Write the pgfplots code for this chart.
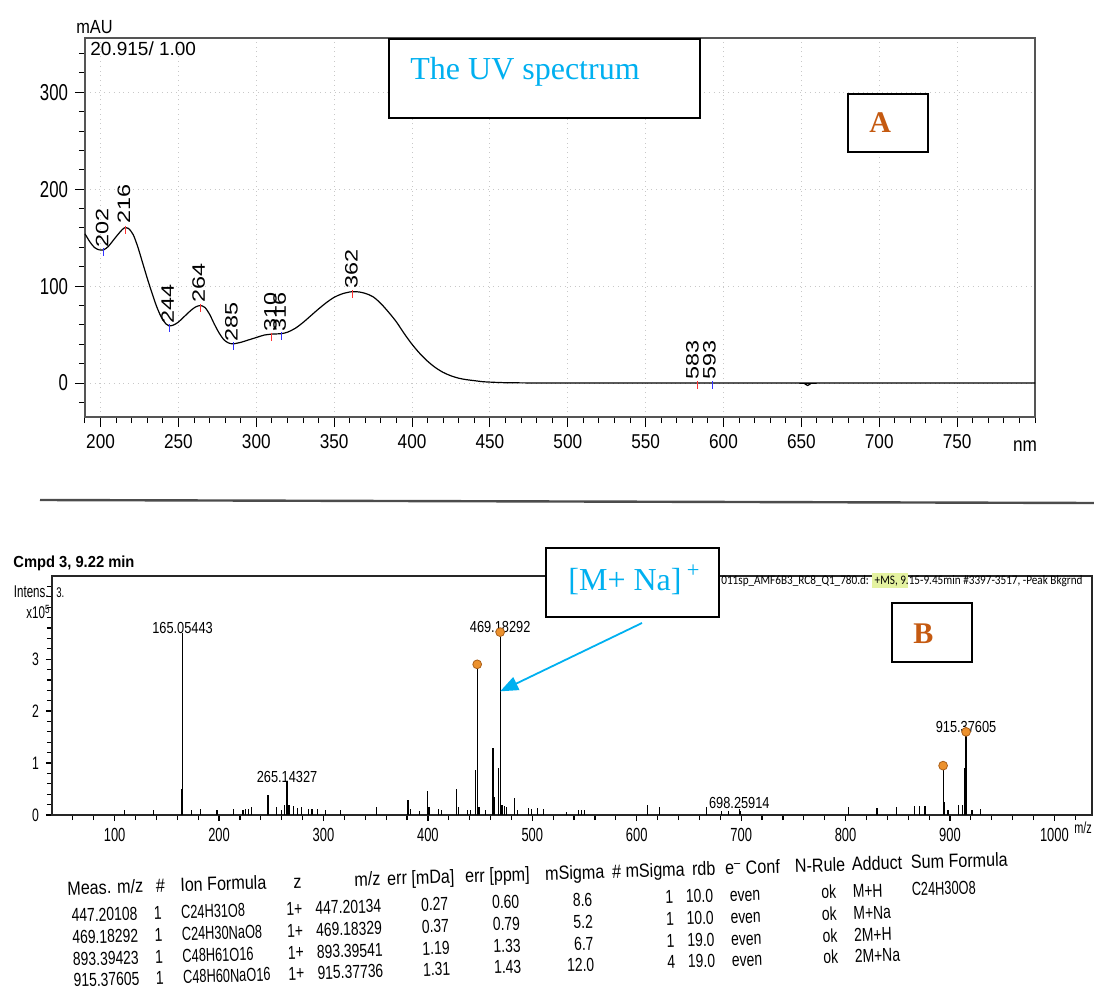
\documentclass[border=0pt]{standalone}
\usepackage{pgfplots}
\pgfplotsset{compat=1.18}
\usetikzlibrary{arrows.meta}
\usepackage{fontspec}
\setmainfont{Liberation Sans}
\newfontfamily\fYt[FakeStretch=0.73]{Liberation Sans}
\newfontfamily\fXt[FakeStretch=0.86]{Liberation Sans}
\newfontfamily\fRot[FakeStretch=1.3]{Liberation Sans}
\newfontfamily\fSerif{Liberation Serif}
\newfontfamily\fMS[FakeStretch=0.8]{Liberation Sans}
\newfontfamily\fMSt[FakeStretch=0.68]{Liberation Sans}
\newfontfamily\fCmpd[FakeStretch=0.92]{Liberation Sans}
\newfontfamily\fTab[FakeStretch=0.74]{Liberation Sans}
\newfontfamily\fTabF[FakeStretch=0.68]{Liberation Sans}
\newfontfamily\fTabH[FakeStretch=0.84]{Liberation Sans}
\newfontfamily\fCal[FakeStretch=0.86]{Carlito}
\newcommand\fs[1]{\fontsize{#1}{#1}\selectfont}
\definecolor{cyanT}{RGB}{0,176,240}
\definecolor{orangeT}{RGB}{197,90,17}
\definecolor{frameg}{RGB}{85,85,85}
\definecolor{gridg}{RGB}{200,200,200}
\definecolor{mkor}{RGB}{236,145,45}
\definecolor{mkdk}{RGB}{170,95,25}
\definecolor{hil}{RGB}{228,242,160}
\begin{document}
\begin{tikzpicture}
\useasboundingbox (0,0) rectangle (547pt,-495pt);

% ---------------- UV spectrum ----------------
\begin{axis}[
  at={(42.5pt,-208.5pt)}, anchor=south west,
  scale only axis, width=475pt, height=189.5pt,
  xmin=190, xmax=800, ymin=-35, ymax=356,
  /pgf/number format/assume math mode=true,
  /pgf/number format/1000 sep={},
  axis line style={draw=frameg, line width=1pt},
  xtick={200,250,...,750}, minor xtick={190,200,...,800},
  ytick={0,100,200,300}, minor ytick={-20,0,...,340},
  xtick pos=bottom, ytick pos=left, tick align=outside,
  major tick length=5pt, minor tick length=3pt,
  tick style={black, line width=0.5pt},
  grid=major, major grid style={gridg, dotted, line width=0.5pt},
  xticklabel style={font=\fXt\fs{10}},
  yticklabel style={font=\fYt\fs{11.5}},
  clip=false,
]
\addplot[black, line width=0.6pt, smooth, tension=0.5] coordinates {
(190,154)(193,146)(196,140)(199,137.5)(202,137.5)(205,141)(208,147)(211,153)
(214,158.5)(216,160.5)(218,159.5)(221,153)(224,140)(227,124)(230,108)(233,93)
(236,79)(239,68)(242,61)(244,59)(247,60)(250,63)(254,69)(258,75)(261,78.5)
(264,80)(267,78)(270,71)(273,61)(276,52)(279,45)(282,41.5)(285,40.5)(290,42)
(295,44.5)(300,47)(305,49.5)(310,50.5)(316,51)(320,52.5)(325,56.5)(330,62.5)
(335,69.5)(340,76.5)(345,83)(350,88.5)(355,92)(360,94)(362,94.3)(366,94)
(370,92.5)(375,89)(380,82)(385,73)(390,63)(395,51)(400,40)(405,30.5)(410,22.5)
(415,16)(420,11)(425,7.5)(430,5)(435,3.5)(440,2.5)(445,1.5)(450,1)(460,0.4)
(480,0.1)(500,0)(650,0)(652,-0.5)(654,-2.5)(656,-0.5)(658,0)(800,0)};
\addplot[only marks, mark=|, red!80, mark size=2pt] coordinates {(216,158)(264,77.5)(310,48)(362,92)(583,-2)};
\addplot[only marks, mark=|, blue!80, mark size=2pt] coordinates {(202,135)(244,56.5)(285,38)(316,48.5)(593,-2)};
\node[rotate=90, anchor=west, inner sep=1pt, font=\fRot\fs{9}] at (axis cs:201,137.5) {202};
\node[rotate=90, anchor=west, inner sep=1pt, font=\fRot\fs{9}] at (axis cs:215,162) {216};
\node[rotate=90, anchor=west, inner sep=1pt, font=\fRot\fs{9}] at (axis cs:243,59) {244};
\node[rotate=90, anchor=west, inner sep=1pt, font=\fRot\fs{9}] at (axis cs:263,81) {264};
\node[rotate=90, anchor=west, inner sep=1pt, font=\fRot\fs{9}] at (axis cs:284,40.5) {285};
\node[rotate=90, anchor=west, inner sep=1pt, font=\fRot\fs{9}] at (axis cs:309,50.5) {310};
\node[rotate=90, anchor=west, inner sep=1pt, font=\fRot\fs{9}] at (axis cs:315,51) {316};
\node[rotate=90, anchor=west, inner sep=1pt, font=\fRot\fs{9}] at (axis cs:361,95) {362};
\node[rotate=90, anchor=west, inner sep=1pt, font=\fRot\fs{9}] at (axis cs:580,1) {583};
\node[rotate=90, anchor=west, inner sep=1pt, font=\fRot\fs{9}] at (axis cs:591,1) {593};
\end{axis}

% ---------------- Mass spectrum ----------------
\begin{axis}[
  at={(26pt,-407.5pt)}, anchor=south west,
  scale only axis, width=520pt, height=119.5pt,
  xmin=40, xmax=1036, ymin=0, ymax=4.6,
  /pgf/number format/assume math mode=true,
  /pgf/number format/1000 sep={},
  axis line style={draw=black!85, line width=0.9pt},
  xtick={100,200,...,1000}, minor xtick={60,80,...,1020},
  ytick={0,1,2,3}, minor ytick={0,0.2,...,4.4},
  xtick pos=bottom, ytick pos=left, tick align=outside,
  major tick length=3pt, minor tick length=2.5pt,
  tick style={black, line width=0.6pt},
  xticklabel style={font=\fMSt\fs{9.5}},
  yticklabel style={font=\fMSt\fs{9}},
  clip=false,
]
\addplot[ycomb, black, line width=0.6pt, no marks] coordinates {
(109.3,0.09)(137.2,0.1)(164.3,0.5)(165.05443,3.5)(173.5,0.1)(182,0.11)(198,0.1)
(214,0.12)(223,0.1)(225.5,0.12)(228,0.12)(231,0.16)(246.8,0.38)(255.3,0.15)
(260,0.1)(263,0.2)(265.14327,0.64)(267,0.2)(271,0.18)(275,0.13)(279,0.15)
(286,0.12)(289,0.12)(294,0.12)(302,0.1)(316,0.1)(351,0.15)(381,0.28)(383,0.12)
(392,0.08)(399.5,0.47)(401,0.15)(410,0.12)(413,0.1)(427,0.51)(429,0.15)
(438,0.1)(441,0.1)(445.3,0.87)(447.20108,2.9)(449,0.15)(455,0.1)(462.4,1.29)
(464,0.35)(467.3,0.9)(469.18292,3.52)(471,0.2)(473,0.18)(475,0.15)(482.7,0.32)
(486,0.1)(496,0.13)(499,0.12)(505,0.13)(511,0.12)(533,0.05)(544,0.09)(547,0.09)
(550,0.09)(610,0.2)(621.6,0.15)(666.7,0.15)(681,0.08)(688,0.08)(698.25914,0.12)
(699.3,0.08)(803,0.15)(830,0.13)(849,0.16)(866,0.17)(871,0.17)(876,0.17)
(893.39423,0.95)(895,0.25)(898,0.1)(908,0.2)(912,0.2)(914,0.9)(915.37605,1.6)
(921,0.1)(929,0.12)};
\addplot[only marks, mark=*, mark size=2.2pt, mark options={fill=mkor, draw=mkdk, line width=0.4pt}]
  coordinates {(447.20108,2.9)(469.18292,3.52)(893.39423,0.95)(915.37605,1.6)};
\node[anchor=south, inner sep=0.5pt, yshift=-1pt, font=\fMS\fs{8}] at (axis cs:165.05443,3.5) {165.05443};
\node[anchor=south, inner sep=0.5pt, yshift=-1pt, font=\fMS\fs{8}] at (axis cs:469.18292,3.52) {469.18292};
\node[anchor=south, inner sep=0.5pt, yshift=-1pt, font=\fMS\fs{8}] at (axis cs:265.14327,0.64) {265.14327};
\node[anchor=south, inner sep=0.5pt, yshift=-1pt, font=\fMS\fs{8}] at (axis cs:698.25914,0.14) {698.25914};
\node[anchor=south, inner sep=0.5pt, yshift=-1pt, font=\fMS\fs{8}] at (axis cs:915.37605,1.6) {915.37605};
\coordinate (tip) at (axis cs:469.18292,2.38);
\end{axis}

% ---------------- annotations ----------------
\begin{scope}[x=0.5pt,y=-0.5pt]
\node[anchor=center, inner sep=0pt, font=\fXt\fs{9.5}] at (94.5,27) {mAU};
\node[anchor=west, inner sep=0pt, font=\fs{9.5}] at (90,49) {20.915/ 1.00};
\node[anchor=center, inner sep=0pt, font=\fXt\fs{10}] at (1025,446) {nm};
\draw[line width=0.8pt, fill=white] (389,39) rectangle (700,118);
\node[anchor=base west, inner sep=0pt, text=cyanT, font=\fSerif\fs{16}] at (410,80) {The UV spectrum};
\draw[line width=0.6pt, fill=white] (848,94) rectangle (928,152);
\node[anchor=base west, inner sep=0pt, text=orangeT, font=\fSerif\bfseries\fs{15}] at (869,133) {A};

\draw[black!70, line width=1.2pt] (40,500) -- (1094,503);

\node[anchor=base west, inner sep=0pt, font=\fCmpd\bfseries\fs{8}] at (13,567) {Cmpd 3, 9.22 min};
\node[anchor=east, inner sep=0pt, font=\fMSt\fs{8.5}] at (49,592) {Intens.};
\node[anchor=east, inner sep=0pt, font=\fMSt\fs{8.5}] at (51,612) {x10\textsuperscript{5}};
\node[anchor=west, inner sep=0pt, font=\fMSt\fs{7}] at (56,593) {3.};
\node[anchor=west, inner sep=0pt, font=\fMSt\fs{8}] at (1074,828) {m/z};

\node[anchor=base west, inner sep=0pt, font=\fCal\fs{6.5}] at (721,584) {011sp\_AMF6B3\_RC8\_Q1\_780.d: {\setlength{\fboxsep}{1.2pt}\colorbox{hil}{+MS, 9}}\hspace{-1.2pt}.15-9.45min \#3397-3517, -Peak Bkgrnd};

\draw[line width=0.8pt, fill=white] (546,548) rectangle (719,617);
\node[anchor=base west, inner sep=0pt, text=cyanT, font=\fSerif\fs{16}] at (568,590) {[M+ Na]\,\textsuperscript{+}};
\draw[line width=0.6pt, fill=white] (892,603) rectangle (972,662);
\node[anchor=base west, inner sep=0pt, text=orangeT, font=\fSerif\bfseries\fs{15}] at (913,643) {B};
\draw[cyanT, line width=0.9pt, -{Triangle[length=9pt,width=7pt]}] (642,623) -- (tip);

% ---------------- table ----------------
\begin{scope}[rotate around={1.77:(100,888)}, every node/.style={transform shape, inner sep=0pt}]
\begin{scope}[every node/.append style={font=\fTabH\fs{9.6}}]
\node[anchor=base west] at (67,894) {Meas. m/z};
\node[anchor=base] at (160.5,894) {\#};
\node[anchor=base west] at (180,894) {Ion Formula};
\node[anchor=base east] at (302,894) {z};
\node[anchor=base east] at (381,894) {m/z};
\node[anchor=base west] at (387,894) {err [mDa]};
\node[anchor=base west] at (465,894) {err [ppm]};
\node[anchor=base west] at (545,894) {mSigma};
\node[anchor=base west] at (612,894) {\# mSigma};
\node[anchor=base west] at (692,894) {rdb};
\node[anchor=base west] at (725,894) {e\textsuperscript{\textendash} Conf};
\node[anchor=base west] at (795,894) {N-Rule};
\node[anchor=base west] at (852,894) {Adduct};
\node[anchor=base west] at (911,894) {Sum Formula};
\end{scope}
\begin{scope}[every node/.append style={font=\fTab\fs{9.4}}]
\foreach \yy/\ma/\fo/\mz/\ea/\eb/\ms/\nm/\rd/\ad in {
 921/447.20108/C24H31O8/447.20134/0.27/0.60/8.6/1/10.0/M+H,
 943/469.18292/C24H30NaO8/469.18329/0.37/0.79/5.2/1/10.0/M+Na,
 965/893.39423/C48H61O16/893.39541/1.19/1.33/6.7/1/19.0/2M+H,
 986/915.37605/C48H60NaO16/915.37736/1.31/1.43/12.0/4/19.0/2M+Na}{
 \node[anchor=base east] at (137,\yy) {\ma};
 \node[anchor=base] at (157,\yy) {1};
 \node[anchor=base west, font=\fTabF\fs{9.4}] at (180,\yy) {\fo};
 \node[anchor=base east] at (302,\yy) {1+};
 \node[anchor=base east] at (381,\yy) {\mz};
 \node[anchor=base east] at (448,\yy) {\ea};
 \node[anchor=base east] at (519,\yy) {\eb};
 \node[anchor=base east] at (592,\yy) {\ms};
 \node[anchor=base east] at (673,\yy) {\nm};
 \node[anchor=base east] at (713,\yy) {\rd};
 \node[anchor=base west] at (729,\yy) {even};
 \node[anchor=base east] at (836,\yy) {ok};
 \node[anchor=base west] at (852,\yy) {\ad};
}
\node[anchor=base west, font=\fTabF\fs{9.4}] at (911,921) {C24H30O8};
\end{scope}
\end{scope}
\end{scope}
\end{tikzpicture}
\end{document}
